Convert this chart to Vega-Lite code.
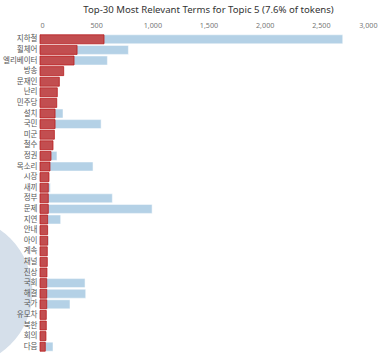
{
  "$schema": "https://vega.github.io/schema/vega-lite/v6.json",
  "width": 337,
  "height": 318,
  "autosize": {"type": "none"},
  "padding": {"left": 40, "top": 34, "right": 10, "bottom": 2},
  "background": "white",
  "config": {
    "view": {"stroke": null},
    "font": "Noto Sans, Noto Sans CJK KR, sans-serif"
  },
  "title": {
    "text": "Top-30 Most Relevant Terms for Topic 5 (7.6% of tokens)",
    "fontSize": 9.6,
    "fontWeight": "normal",
    "color": "#333333",
    "anchor": "middle",
    "offset": 6,
    "font": "Noto Sans, Noto Sans CJK KR, sans-serif"
  },
  "datasets": {
    "terms": [
      {"rank": 1, "Term": "지하철", "Freq": 570, "Total": 2695},
      {"rank": 2, "Term": "휠체어", "Freq": 330, "Total": 787},
      {"rank": 3, "Term": "엘리베이터", "Freq": 303, "Total": 600},
      {"rank": 4, "Term": "방송", "Freq": 211, "Total": 211},
      {"rank": 5, "Term": "문재인", "Freq": 172, "Total": 175},
      {"rank": 6, "Term": "난리", "Freq": 154, "Total": 154},
      {"rank": 7, "Term": "민주당", "Freq": 149, "Total": 149},
      {"rank": 8, "Term": "설치", "Freq": 134, "Total": 205},
      {"rank": 9, "Term": "국민", "Freq": 134, "Total": 544},
      {"rank": 10, "Term": "미군", "Freq": 128, "Total": 128},
      {"rank": 11, "Term": "철수", "Freq": 116, "Total": 116},
      {"rank": 12, "Term": "정권", "Freq": 98, "Total": 151},
      {"rank": 13, "Term": "목소리", "Freq": 89, "Total": 472},
      {"rank": 14, "Term": "시장", "Freq": 80, "Total": 80},
      {"rank": 15, "Term": "새끼", "Freq": 74, "Total": 92},
      {"rank": 16, "Term": "정부", "Freq": 74, "Total": 644},
      {"rank": 17, "Term": "문제", "Freq": 74, "Total": 998},
      {"rank": 18, "Term": "지연", "Freq": 68, "Total": 184},
      {"rank": 19, "Term": "안내", "Freq": 68, "Total": 70},
      {"rank": 20, "Term": "아이", "Freq": 68, "Total": 77},
      {"rank": 21, "Term": "계속", "Freq": 65, "Total": 65},
      {"rank": 22, "Term": "채널", "Freq": 65, "Total": 65},
      {"rank": 23, "Term": "진상", "Freq": 62, "Total": 62},
      {"rank": 24, "Term": "국회", "Freq": 60, "Total": 401},
      {"rank": 25, "Term": "해결", "Freq": 60, "Total": 407},
      {"rank": 26, "Term": "국가", "Freq": 60, "Total": 267},
      {"rank": 27, "Term": "유모차", "Freq": 56, "Total": 56},
      {"rank": 28, "Term": "북한", "Freq": 56, "Total": 56},
      {"rank": 29, "Term": "회의", "Freq": 53, "Total": 53},
      {"rank": 30, "Term": "다음", "Freq": 47, "Total": 116}
    ],
    "circle": [
      {"topic": 5, "PC1": -1.49, "PC2": -0.62}
    ]
  },
  "layer": [
    {
      "data": {"name": "circle"},
      "mark": {"type": "point", "filled": true, "clip": false, "opacity": 1},
      "encoding": {
        "x": {"field": "PC1", "type": "quantitative", "scale": {"domain": [-1, 1]}, "axis": null},
        "y": {"field": "PC2", "type": "quantitative", "scale": {"domain": [-1, 1]}, "axis": null},
        "size": {"value": 22500},
        "color": {"value": "#d5dfea"}
      }
    },
    {
      "data": {"name": "terms"},
      "layer": [
        {
          "mark": {"type": "bar", "color": "#1f77b4", "opacity": 0.33, "stroke": "#ffffff", "strokeWidth": 0.5},
          "encoding": {
            "y": {
              "field": "Term", "type": "nominal",
              "sort": {"field": "rank", "order": "ascending"},
              "scale": {"paddingInner": 0.15, "paddingOuter": 0.075},
              "axis": {"title": null, "ticks": false, "domain": false, "labelPadding": 3, "labelFontSize": 7.5, "labelColor": "#555555", "zindex": 1, "labelFont": "Noto Sans CJK KR"}
            },
            "x": {
              "field": "Total", "type": "quantitative",
              "scale": {"domain": [0, 3000], "nice": false},
              "axis": {"orient": "top", "title": null, "ticks": false, "domain": false, "grid": false, "labelPadding": 5, "labelFontSize": 7.2, "labelColor": "#777777", "values": [0, 500, 1000, 1500, 2000, 2500, 3000], "format": ",d"}
            }
          }
        },
        {
          "mark": {"type": "bar", "fill": "#c43b3b", "fillOpacity": 0.88, "stroke": "#b81414", "strokeWidth": 0.8, "strokeOpacity": 0.9},
          "encoding": {
            "y": {"field": "Term", "type": "nominal", "sort": {"field": "rank", "order": "ascending"}},
            "x": {"field": "Freq", "type": "quantitative"}
          }
        }
      ]
    }
  ],
  "resolve": {"scale": {"x": "independent", "y": "independent"}}
}
